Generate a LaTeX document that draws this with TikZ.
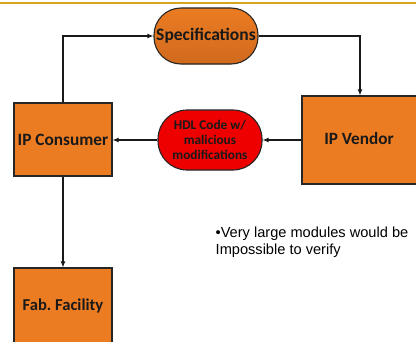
\documentclass[tikz,border=0pt]{standalone}
\usepackage{fontspec}
\setmainfont{Carlito}
\newfontfamily\notefont{Liberation Sans}
\usetikzlibrary{arrows.meta,shadows}
\definecolor{boxorange}{HTML}{EC7C22}
\definecolor{specorange}{HTML}{E37321}
\definecolor{hdlred}{HTML}{EE0000}
\definecolor{rulegold}{HTML}{D9A521}
\frenchspacing
\tikzset{
  x=1pt, y=-1pt,
  block/.style={draw=black!85, line width=1.1pt, fill=boxorange, inner sep=0pt,
    font=\bfseries, text=black!90, drop shadow={shadow xshift=1pt, shadow yshift=-1pt, opacity=0.35}},
  pill/.style={draw=black!85, line width=1.1pt, rounded corners=27pt, inner sep=0pt,
    font=\bfseries, text=black!90, align=center},
  flow/.style={line width=1.1pt, draw=black!90, -{Latex[length=6pt,width=5pt]}}
}
\begin{document}
\begin{tikzpicture}
\useasboundingbox (0,0) rectangle (416,341);
\fill[white] (0,0) rectangle (416,341);
% header rule
\draw[rulegold, line width=1.8pt] (0,3) -- (416,3);

% nodes
\node[pill, fill=specorange, top color=boxorange, bottom color=specorange!92!black,
      minimum width=104pt, minimum height=56pt, font=\bfseries\fontsize{17.5}{19}\selectfont]
      (spec) at (206,36) {Specifications};
\node[block, minimum width=98pt, minimum height=73pt, font=\bfseries\fontsize{17.3}{19}\selectfont]
      (cons) at (63,139.5) {IP Consumer};
\node[block, minimum width=130pt, minimum height=88pt] (vend) at (367,140) {};
\node[font=\bfseries\fontsize{17.2}{19}\selectfont, text=black!90] (vendlbl) at (359,139) {IP Vendor};
\node[pill, fill=hdlred, minimum width=104pt, minimum height=60pt, rounded corners=29pt,
      font=\bfseries\fontsize{13.3}{15}\selectfont]
      (hdl) at (210,140) {HDL Code w/\\malicious\\modifications};
\node[block, minimum width=98pt, minimum height=90pt] (fab) at (63,313) {};
\node[font=\bfseries\fontsize{16.6}{18}\selectfont, text=black!90] (fablbl) at (63,306) {Fab. Facility};

% connectors
\coordinate (c1) at (cons.north |- spec.west);
\coordinate (c2) at (360,36);
\draw[flow] (cons.north) -- (c1) -- (spec.west);
\draw[flow] (spec.east) -- (c2) -- (c2 |- vend.north);
\draw[flow] (vend.west |- hdl.east) -- (hdl.east);
\draw[flow] (hdl.west) -- (cons.east |- hdl.west);
\draw[flow] (cons.south) -- (fab.north);

% note
\node[anchor=north west, font=\notefont\fontsize{14.6}{17}\selectfont, align=left, inner sep=0pt]
      (note) at (215.5,226.3) {•Very large modules would be\\Impossible to verify};
\end{tikzpicture}
\end{document}
